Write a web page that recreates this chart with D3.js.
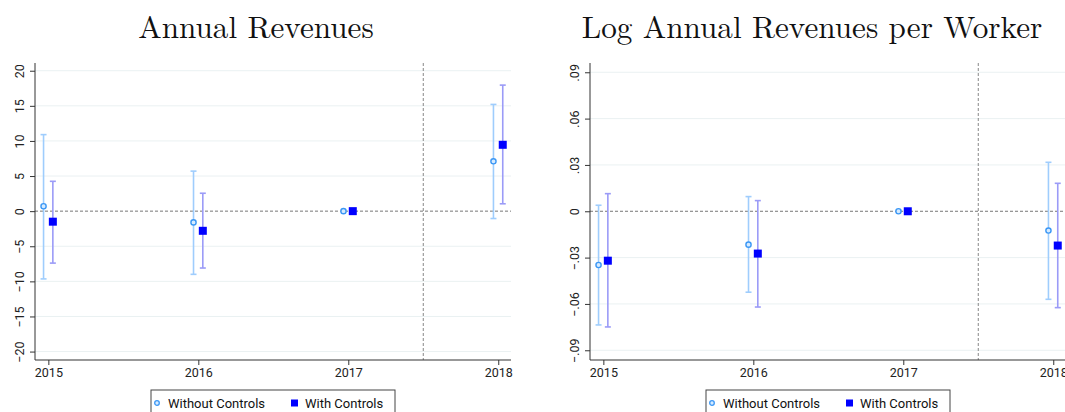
<!DOCTYPE html>
<meta charset="utf-8">
<style>
    body { margin: 0; background: #fff; }
    .title { font-family: "Latin Modern Roman", "CMU Serif", "Liberation Serif", serif; font-size: 31.2px; fill: #111; }
    .tick text { font-family: Roboto, "Noto Sans", sans-serif; font-size: 12.5px; fill: #222; }
    .legend text { font-family: Roboto, "Noto Sans", sans-serif; font-size: 13px; fill: #111; }
</style>
<script src="https://d3js.org/d3.v7.min.js"></script>
<svg width="1065" height="412"></svg>
<script>
    // event-study estimates
    const years = [2015, 2016, 2017, 2018];

    const revNoCtrl = [0.7, -1.6, 0, 7.1];
    const revNoCtrlLo = [-9.65, -9.0, 0, -1.05];
    const revNoCtrlHi = [10.9, 5.7, 0, 15.2];
    const revCtrl = [-1.5, -2.8, 0, 9.45];
    const revCtrlLo = [-7.4, -8.1, 0, 1.05];
    const revCtrlHi = [4.25, 2.55, 0, 17.95];
    const revTicks = [-20, -15, -10, -5, 0, 5, 10, 15, 20];

    const lpwNoCtrl = [-0.0348, -0.0216, 0, -0.0125];
    const lpwNoCtrlLo = [-0.0736, -0.0524, 0, -0.057];
    const lpwNoCtrlHi = [0.0039, 0.0095, 0, 0.0317];
    const lpwCtrl = [-0.032, -0.0274, 0, -0.0222];
    const lpwCtrlLo = [-0.0749, -0.062, 0, -0.0624];
    const lpwCtrlHi = [0.0114, 0.0069, 0, 0.0181];
    const lpwTicks = [-0.09, -0.06, -0.03, 0, 0.03, 0.06, 0.09];

    const svg = d3.select("svg");
    const colNoCI = "#9fcdfd", colNoPt = "#3b97f5";
    const colCI = "#9b9bf7", colPt = "#0000ff";

    function panel(opt) {
        const g = svg.append("g").attr("transform", "translate(" + opt.left + ",0)");
        const w = 476, top = 63, bottom = 360;
        const x = d3.scaleLinear().domain([2014.911, 2018.085]).range([0, w]);
        const y = d3.scaleLinear().domain(opt.ydom).range([bottom, top]);

        svg.append("text").attr("class", "title")
            .attr("x", opt.titleX).attr("y", 38)
            .attr("text-anchor", "middle").text(opt.title);

        // grid
        g.selectAll(".grid").data(opt.ticks.filter(t => t !== 0)).enter().append("line")
            .attr("x1", 0).attr("x2", w)
            .attr("y1", d => y(d)).attr("y2", d => y(d))
            .attr("stroke", "#eaf1f2").attr("stroke-width", 1);

        // zero line + treatment line
        g.append("line").attr("x1", 0).attr("x2", w)
            .attr("y1", y(0)).attr("y2", y(0))
            .attr("stroke", "#777").attr("stroke-dasharray", "3,2");
        g.append("line").attr("x1", x(2017.5)).attr("x2", x(2017.5))
            .attr("y1", top).attr("y2", bottom)
            .attr("stroke", "#888").attr("stroke-dasharray", "3,2");

        // axes
        const ya = g.append("g").call(d3.axisLeft(y).tickValues(opt.ticks).tickFormat(opt.fmt).tickSize(5).tickPadding(4));
        ya.select(".domain").attr("stroke", "#333").attr("d", "M0," + top + "V" + bottom);
        ya.selectAll(".tick line").attr("stroke", "#333");
        ya.selectAll(".tick text")
            .attr("transform", "rotate(-90)")
            .attr("x", 0).attr("y", -11)
            .attr("dy", 0)
            .attr("text-anchor", "middle");

        const xa = g.append("g").attr("transform", "translate(0," + bottom + ")")
            .call(d3.axisBottom(x).tickValues(years).tickFormat(d3.format("d")).tickSize(5).tickPadding(3));
        xa.select(".domain").attr("stroke", "#333").attr("d", "M0,0H" + w);
        xa.selectAll(".tick line").attr("stroke", "#333");

        // series
        const series = [
            {pt: opt.noCtrl, lo: opt.noLo, hi: opt.noHi, off: -0.032, ci: colNoCI, kind: "circle"},
            {pt: opt.ctrl, lo: opt.ctrlLo, hi: opt.ctrlHi, off: 0.03, ci: colCI, kind: "square"}
        ];
        series.forEach(s => {
            const rows = years.map((yr, i) => ({x: yr + s.off, v: s.pt[i], lo: s.lo[i], hi: s.hi[i]}));
            const eb = g.append("g");
            rows.filter(r => r.hi !== r.lo).forEach(r => {
                eb.append("line").attr("x1", x(r.x)).attr("x2", x(r.x))
                    .attr("y1", y(r.lo)).attr("y2", y(r.hi))
                    .attr("stroke", s.ci).attr("stroke-width", 1.6);
                [r.lo, r.hi].forEach(c => eb.append("line")
                    .attr("x1", x(r.x) - 3).attr("x2", x(r.x) + 3)
                    .attr("y1", y(c)).attr("y2", y(c))
                    .attr("stroke", s.ci).attr("stroke-width", 1.6));
            });
            if (s.kind === "circle") {
                g.selectAll(null).data(rows).enter().append("circle")
                    .attr("cx", d => x(d.x)).attr("cy", d => y(d.v)).attr("r", 2.6)
                    .attr("fill", "#d6ebff").attr("stroke", colNoPt).attr("stroke-width", 1.4);
            } else {
                g.selectAll(null).data(rows).enter().append("rect")
                    .attr("x", d => x(d.x) - 4).attr("y", d => y(d.v) - 4)
                    .attr("width", 8).attr("height", 8).attr("fill", colPt);
            }
        });

        // legend
        const lg = g.append("g").attr("class", "legend").attr("transform", "translate(" + (w / 2 - 122) + ",390)");
        lg.append("rect").attr("x", 0).attr("y", 0).attr("width", 244).attr("height", 30)
            .attr("fill", "#fff").attr("stroke", "#444").attr("stroke-width", 1);
        lg.append("circle").attr("cx", 6).attr("cy", 13).attr("r", 2.3)
            .attr("fill", "#d6ebff").attr("stroke", colNoPt).attr("stroke-width", 1.3);
        lg.append("text").attr("x", 17).attr("y", 17.5).text("Without Controls");
        lg.append("rect").attr("x", 140).attr("y", 9.5).attr("width", 7).attr("height", 7).attr("fill", colPt);
        lg.append("text").attr("x", 154).attr("y", 17.5).text("With Controls");
    }

    panel({
        left: 35, title: "Annual Revenues", titleX: 256,
        ydom: [-21.2, 21.1], ticks: revTicks, fmt: d3.format("d"),
        noCtrl: revNoCtrl, noLo: revNoCtrlLo, noHi: revNoCtrlHi,
        ctrl: revCtrl, ctrlLo: revCtrlLo, ctrlHi: revCtrlHi
    });
    panel({
        left: 590, title: "Log Annual Revenues per Worker", titleX: 812,
        ydom: [-0.0963, 0.096], ticks: lpwTicks,
        fmt: d => d === 0 ? "0" : d3.format(".2f")(d).replace("0.", "."),
        noCtrl: lpwNoCtrl, noLo: lpwNoCtrlLo, noHi: lpwNoCtrlHi,
        ctrl: lpwCtrl, ctrlLo: lpwCtrlLo, ctrlHi: lpwCtrlHi
    });
</script>
